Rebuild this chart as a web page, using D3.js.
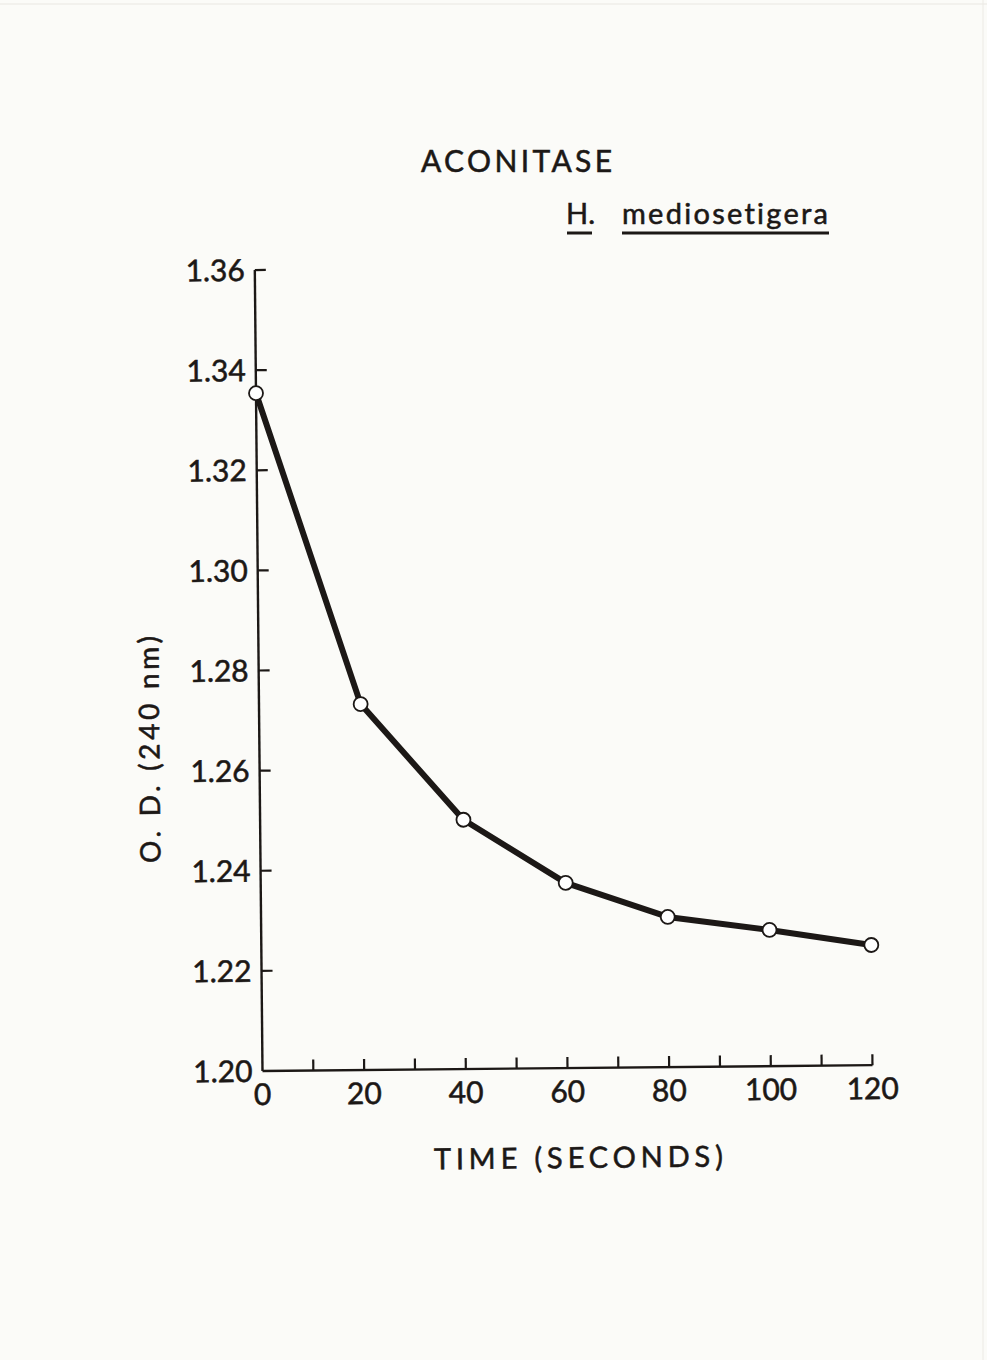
<!DOCTYPE html>
<html>
<head>
<meta charset="utf-8">
<script src="https://cdn.jsdelivr.net/npm/d3@7"></script>
<style>
  html, body { margin: 0; padding: 0; background: #fbfbf8; }
  svg { display: block; }
  text { font-family: Lato, "DejaVu Sans", sans-serif; fill: #1c1816; stroke: #1c1816; stroke-width: 0.55;
         font-variant-ligatures: none; font-feature-settings: "liga" 0, "clig" 0; }
</style>
</head>
<body>
<svg id="chart" width="987" height="1360"></svg>
<script>
// ---- data ----
const times = [0, 20, 40, 60, 80, 100, 120];
const odValues = [1.3354, 1.2731, 1.2498, 1.2370, 1.2300, 1.2272, 1.2240];
const xTickLabels = [0, 20, 40, 60, 80, 100, 120];
const xMinorTicks = [0, 10, 20, 30, 40, 50, 60, 70, 80, 90, 100, 110, 120];
const yTickValues = [1.20, 1.22, 1.24, 1.26, 1.28, 1.30, 1.32, 1.34, 1.36];
const titleText = "ACONITASE";
const speciesGenus = "H.";
const speciesName = "mediosetigera";
const yLabelText = "O. D. (240 nm)";
const xLabelText = "TIME (SECONDS)";

// ---- layout ----
const svg = d3.select("#chart");
const ink = "#1c1816";
const origin = { x: 262.5, y: 1071 };
const plotW = 610, plotH = 801;

const x = d3.scaleLinear().domain([0, 120]).range([0, plotW]);
const y = d3.scaleLinear().domain([1.20, 1.36]).range([0, -plotH]);

// faint photo edges
svg.append("line").attr("x1", 0).attr("x2", 987).attr("y1", 4).attr("y2", 4)
  .attr("stroke", "#e9e7e2").attr("stroke-width", 1);
svg.append("line").attr("x1", 983).attr("x2", 983).attr("y1", 0).attr("y2", 1360)
  .attr("stroke", "#eceae5").attr("stroke-width", 1);

// titles
svg.append("text").attr("x", 421).attr("y", 172)
  .attr("font-size", 30).attr("textLength", 191).attr("lengthAdjust", "spacing").text(titleText);

svg.append("text").attr("x", 566).attr("y", 224)
  .attr("font-size", 29).text(speciesGenus);
svg.append("line").attr("x1", 567).attr("x2", 592).attr("y1", 233).attr("y2", 233)
  .attr("stroke", ink).attr("stroke-width", 3);
svg.append("text").attr("x", 622).attr("y", 224)
  .attr("font-size", 29).attr("textLength", 206).attr("lengthAdjust", "spacing").text(speciesName);
svg.append("line").attr("x1", 622).attr("x2", 829).attr("y1", 233).attr("y2", 233)
  .attr("stroke", ink).attr("stroke-width", 3);

// plot group, slightly rotated like the photographed original
const g = svg.append("g")
  .attr("transform", `translate(${origin.x},${origin.y}) rotate(-0.55)`);

// axes lines
g.append("line").attr("x1", 0).attr("x2", 0).attr("y1", y(1.20)).attr("y2", y(1.36))
  .attr("stroke", ink).attr("stroke-width", 2.4);
g.append("line").attr("x1", 0).attr("x2", x(120)).attr("y1", 0).attr("y2", 0)
  .attr("stroke", ink).attr("stroke-width", 2.4);

// y ticks (inward, to the right)
g.selectAll(".ytick").data(yTickValues.filter(v => v > 1.20)).join("line")
  .attr("x1", 0).attr("x2", 11).attr("y1", d => y(d)).attr("y2", d => y(d))
  .attr("stroke", ink).attr("stroke-width", 2.2);
g.selectAll(".ylab").data(yTickValues).join("text")
  .attr("x", -10).attr("y", d => y(d)).attr("dy", "0.36em")
  .attr("text-anchor", "end").attr("font-size", 30)
  .text(d => d.toFixed(2));

// x ticks (inward, upward)
g.selectAll(".xtick").data(xMinorTicks.filter(v => v > 0)).join("line")
  .attr("x1", d => x(d)).attr("x2", d => x(d)).attr("y1", 0).attr("y2", -11)
  .attr("stroke", ink).attr("stroke-width", 2.2);
g.selectAll(".xlab").data(xTickLabels).join("text")
  .attr("x", d => x(d)).attr("y", 34)
  .attr("text-anchor", "middle").attr("font-size", 30)
  .text(d => d);

// axis titles (sized via textLength to match the original's spacing)
g.append("text").attr("x", 433 - origin.x).attr("y", 100)
  .attr("font-size", 29).attr("textLength", 289).attr("lengthAdjust", "spacing").text(xLabelText);
g.append("text")
  .attr("transform", `translate(-100, ${862 - origin.y}) rotate(-90)`)
  .attr("font-size", 28).attr("textLength", 227).attr("lengthAdjust", "spacing")
  .text(yLabelText);

// data line
const pts = times.map((t, i) => [t, odValues[i]]);
g.append("path").datum(pts)
  .attr("d", d3.line().x(d => x(d[0])).y(d => y(d[1])))
  .attr("fill", "none").attr("stroke", ink).attr("stroke-width", 6)
  .attr("stroke-linejoin", "round");
g.selectAll(".pt").data(pts).join("circle")
  .attr("cx", d => x(d[0])).attr("cy", d => y(d[1])).attr("r", 7)
  .attr("fill", "#ffffff").attr("stroke", ink).attr("stroke-width", 1.8);
</script>
</body>
</html>
